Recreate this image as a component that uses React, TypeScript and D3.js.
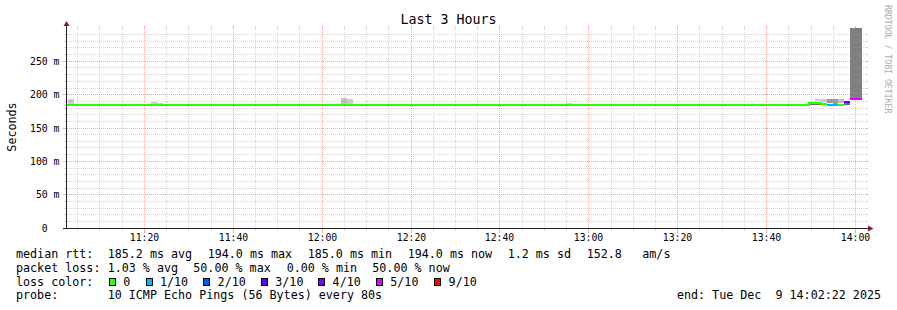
import React from 'react';
import * as d3 from 'd3';

// ---------- data ----------
const TITLE = 'Last 3 Hours';
const Y_AXIS_TITLE = 'Seconds';
const WATERMARK = 'RRDTOOL / TOBI OETIKER';

const RANGE_START = new Date(2025, 11, 9, 11, 2, 22);
const RANGE_END = new Date(2025, 11, 9, 14, 2, 22);
const Y_DOMAIN_MS = [0, 300];
const Y_MINOR_STEP_MS = 10;
const Y_MAJOR_STEP_MS = 50;
const yLabelValuesMs = [0, 50, 100, 150, 200, 250];
const yLabelTexts = ['0  ', '50 m', '100 m', '150 m', '200 m', '250 m'];
const X_MINOR_MINUTES = 5;
const X_MAJOR_MINUTES = 20;

const STEP_SECONDS = 80;
const FIRST_STEP_END = new Date(2025, 11, 9, 11, 4, 10);

// median rtt, as runs of consecutive steps
const medianRunFirstStep = [-1, 125, 126, 127, 128, 129, 130, 131, 132];
const medianRunLastStep = [124, 125, 126, 127, 128, 129, 130, 131, 133];
const medianRunMs = [185.0, 188.5, 188.5, 186.5, 186.0, 185.0, 185.5, 190.5, 194.0];
const medianRunLoss = [0, 0, 0, 0, 1, 1, 0, 3, 5];

// smoke (spread of the pings)
const smokeStep = [0, 14, 15, 46, 47, 84, 125, 126, 126, 127, 128, 129, 130, 131, 132, 133];
const smokeLowMs = [185.5, 186.5, 186, 185, 185, 185.5, 185, 185, 190, 189, 187.5, 186.5, 187, 185, 195.5, 195.5];
const smokeHighMs = [193.5, 189.5, 187.5, 195, 193.5, 187, 187.5, 187.5, 193.5, 193.5, 193.5, 193.5, 193.5, 189, 320, 320];
const smokeShade = [0, 0, 0, 1, 0, 0, 3, 3, 0, 0, 2, 2, 1, 3, 4, 4];
const SMOKE_COLORS = ['#cdcdcd', '#c2c2c2', '#9c9c9c', '#6e6e6e', '#808080'];

const lossLevels = [0, 1, 2, 3, 4, 5, 9];
const lossLabels = ['0', '1/10', '2/10', '3/10', '4/10', '5/10', '9/10'];
const lossColors = ['#26ff00', '#00b8ff', '#0059ff', '#5e00ff', '#7e00ff', '#dd00ff', '#ff0000'];

const legendRttLabel = 'median rtt:';
const legendRttItems = ['185.2 ms avg', '194.0 ms max', '185.0 ms min', '194.0 ms now', '1.2 ms sd', '152.8', 'am/s'];
const legendLossLabel = 'packet loss:';
const legendLossItems = ['1.03 % avg', '50.00 % max', '0.00 % min', '50.00 % now'];
const legendColorLabel = 'loss color:';
const legendProbeLabel = 'probe:';
const legendProbeText = '10 ICMP Echo Pings (56 Bytes) every 80s';
const legendEndText = 'end: Tue Dec  9 14:02:22 2025';

// ---------- layout ----------
const WIDTH = 897;
const HEIGHT = 310;
const X0 = 66;
const X1 = 866;
const Y1 = 28;
const Y0 = 228;
const FONT = '"DejaVu Sans Mono", monospace';
const LEGEND_FS = 11.7;
const AXIS_FS = 9.8;
const rttX = [107.7, 207.7, 307.7, 407.7, 507.7, 586.7, 642.3];
const lossX = [107.7, 193.3, 286.7, 372.3];
const boxX = [109, 145.7, 203.3, 261, 318.3, 376, 434.3];
const legendBaselines = [258.3, 272, 285.7, 299.4];

const GRID_COLOR = 'rgba(143,143,143,0.37)';
const MGRID_COLOR = 'rgba(222,79,79,0.48)';
const AXIS_COLOR = '#202020';
const ARROW_COLOR = '#802020';
const PRE = { whiteSpace: 'pre' as const };

export default function App() {
  const x = d3.scaleTime().domain([RANGE_START, RANGE_END]).range([X0, X1]);
  const y = d3.scaleLinear().domain(Y_DOMAIN_MS).range([Y0, Y1]);
  const stepStart = (k: number) => new Date(FIRST_STEP_END.getTime() + (k - 1) * STEP_SECONDS * 1000);
  const stepEnd = (k: number) => new Date(FIRST_STEP_END.getTime() + k * STEP_SECONDS * 1000);
  const px = (v: number) => Math.floor(v) + 0.5;

  const minorTimes = x.ticks(d3.timeMinute.every(X_MINOR_MINUTES) as any).filter(t => t.getMinutes() % X_MAJOR_MINUTES !== 0);
  const majorTimes = x.ticks(d3.timeMinute.every(X_MAJOR_MINUTES) as any);
  const fmt = d3.timeFormat('%H:%M');

  const yMinor = d3.range(Y_MINOR_STEP_MS, Y_DOMAIN_MS[1], Y_MINOR_STEP_MS).filter(v => v % Y_MAJOR_STEP_MS !== 0);
  const yMajor = d3.range(Y_MAJOR_STEP_MS, Y_DOMAIN_MS[1], Y_MAJOR_STEP_MS);

  type Step = { k: number; v: number; loss: number };
  const steps: Step[] = [];
  medianRunFirstStep.forEach((a, i) => {
    for (let k = a; k <= medianRunLastStep[i]; k++) steps.push({ k, v: medianRunMs[i], loss: medianRunLoss[i] });
  });
  steps.sort((a, b) => a.k - b.k);

  const medianPaths = lossLevels.map((lvl, li) => {
    const pts: { x: number; y: number; on: boolean }[] = [];
    steps.forEach(s => {
      const yy = Math.floor(y(s.v)) + 1;
      const on = s.loss === lvl;
      pts.push({ x: x(stepStart(s.k)), y: yy, on });
      pts.push({ x: x(stepEnd(s.k)), y: yy, on });
    });
    const line = d3.line<{ x: number; y: number; on: boolean }>().defined(p => p.on).x(p => p.x).y(p => p.y);
    return { color: lossColors[li], d: line(pts) || '' };
  });

  return (
    <svg width={WIDTH} height={HEIGHT} style={{ position: 'absolute', left: 0, top: 0, background: '#fff' }} fontFamily={FONT}>
      <rect x={0} y={0} width={WIDTH} height={HEIGHT} fill="#ffffff" />
      <defs>
        <clipPath id="plot">
          <rect x={X0} y={Y1} width={X1 - X0} height={Y0 - Y1} />
        </clipPath>
      </defs>

      {/* smoke */}
      <g clipPath="url(#plot)" shapeRendering="crispEdges">
        {smokeStep.map((k, i) => {
          const xa = Math.round(x(stepStart(k)));
          const xb = Math.round(x(stepEnd(k)));
          const ya = Math.round(y(smokeHighMs[i]));
          const yb = Math.round(y(smokeLowMs[i]));
          return <rect key={i} x={xa} y={ya} width={xb - xa} height={yb - ya} fill={SMOKE_COLORS[smokeShade[i]]} />;
        })}
      </g>

      {/* grid */}
      <g strokeWidth={1} shapeRendering="crispEdges">
        {yMinor.map(v => (
          <g key={'ym' + v}>
            <line x1={X0 - 2} x2={X0} y1={px(y(v))} y2={px(y(v))} stroke={GRID_COLOR} />
            <line x1={X1} x2={X1 + 2} y1={px(y(v))} y2={px(y(v))} stroke={GRID_COLOR} />
            <line x1={X0 + 1} x2={X1} y1={px(y(v))} y2={px(y(v))} stroke={GRID_COLOR} strokeDasharray="1,1" />
          </g>
        ))}
        {minorTimes.map(t => (
          <g key={'xm' + t.getTime()}>
            <line x1={px(x(t))} x2={px(x(t))} y1={Y1 - 2} y2={Y1} stroke={GRID_COLOR} />
            <line x1={px(x(t))} x2={px(x(t))} y1={Y0 + 1} y2={Y0 + 3} stroke={GRID_COLOR} />
            <line x1={px(x(t))} x2={px(x(t))} y1={Y1} y2={Y0} stroke={GRID_COLOR} strokeDasharray="1,1" />
          </g>
        ))}
        {yMajor.map(v => (
          <g key={'yM' + v}>
            <line x1={X0 - 3} x2={X0} y1={px(y(v))} y2={px(y(v))} stroke={MGRID_COLOR} />
            <line x1={X1} x2={X1 + 2} y1={px(y(v))} y2={px(y(v))} stroke={MGRID_COLOR} />
            <line x1={X0 + 1} x2={X1} y1={px(y(v))} y2={px(y(v))} stroke={MGRID_COLOR} strokeDasharray="1,1" />
          </g>
        ))}
        {majorTimes.map(t => (
          <g key={'xM' + t.getTime()}>
            <line x1={px(x(t))} x2={px(x(t))} y1={Y1 - 2} y2={Y1} stroke={MGRID_COLOR} />
            <line x1={px(x(t))} x2={px(x(t))} y1={Y0 + 1} y2={Y0 + 5} stroke={MGRID_COLOR} />
            <line x1={px(x(t))} x2={px(x(t))} y1={Y1} y2={Y0} stroke={MGRID_COLOR} strokeDasharray="1,1" />
          </g>
        ))}
      </g>

      {/* median lines */}
      <g clipPath="url(#plot)">
        {medianPaths.map((p, i) => (
          <path key={i} d={p.d} fill="none" stroke={p.color} strokeWidth={2} shapeRendering="crispEdges" />
        ))}
      </g>

      {/* axes */}
      <g shapeRendering="crispEdges">
        <line x1={X0 - 3} x2={X1 + 2} y1={Y0 + 0.5} y2={Y0 + 0.5} stroke={AXIS_COLOR} />
        <line x1={X0 + 0.5} x2={X0 + 0.5} y1={Y1 - 3} y2={Y0 + 1} stroke={AXIS_COLOR} />
      </g>
      <path d={`M${X0 - 2.5},${Y1 - 2} L${X0 + 3.5},${Y1 - 2} L${X0 + 0.5},${Y1 - 7} Z`} fill={ARROW_COLOR} />
      <path d={`M${X1 + 2},${Y0 - 2.5} L${X1 + 2},${Y0 + 3.5} L${X1 + 7.5},${Y0 + 0.5} Z`} fill={ARROW_COLOR} />

      {/* axis labels */}
      <g fontSize={AXIS_FS} fill="#000">
        {yLabelValuesMs.map((v, i) => (
          <text key={'yl' + v} x={59.5} y={Math.floor(y(v)) + 4} textAnchor="end" style={PRE} xmlSpace="preserve">
            {yLabelTexts[i]}
          </text>
        ))}
        {majorTimes.map(t => (
          <text key={'xl' + t.getTime()} x={px(x(t))} y={241} textAnchor="middle">
            {fmt(t)}
          </text>
        ))}
      </g>

      {/* titles */}
      <text x={448.5} y={23.5} textAnchor="middle" fontSize={13.3} fill="#000">{TITLE}</text>
      <text transform={`translate(15.5,127) rotate(-90)`} textAnchor="middle" fontSize={LEGEND_FS} fill="#000">{Y_AXIS_TITLE}</text>
      <text transform={`translate(885,5) rotate(90)`} fontSize={8.2} fill="#ababab">{WATERMARK}</text>

      {/* legend */}
      <g fontSize={LEGEND_FS} fill="#000">
        <text x={16} y={legendBaselines[0]} style={PRE} xmlSpace="preserve">{legendRttLabel}</text>
        {legendRttItems.map((s, i) => (
          <text key={'r' + i} x={rttX[i]} y={legendBaselines[0]} style={PRE} xmlSpace="preserve">{s}</text>
        ))}
        <text x={16} y={legendBaselines[1]} style={PRE} xmlSpace="preserve">{legendLossLabel}</text>
        {legendLossItems.map((s, i) => (
          <text key={'l' + i} x={lossX[i]} y={legendBaselines[1]} style={PRE} xmlSpace="preserve">{s}</text>
        ))}
        <text x={16} y={legendBaselines[2]} style={PRE} xmlSpace="preserve">{legendColorLabel}</text>
        {lossLabels.map((s, i) => (
          <g key={'c' + i}>
            <rect x={boxX[i] + 0.5} y={278.5} width={6} height={7} fill={lossColors[i]} stroke="#000" strokeWidth={1} shapeRendering="crispEdges" />
            <text x={boxX[i] + 14.3} y={legendBaselines[2]} style={PRE} xmlSpace="preserve">{s}</text>
          </g>
        ))}
        <text x={16} y={legendBaselines[3]} style={PRE} xmlSpace="preserve">{legendProbeLabel}</text>
        <text x={107.7} y={legendBaselines[3]} style={PRE} xmlSpace="preserve">{legendProbeText}</text>
        <text x={881} y={legendBaselines[3]} textAnchor="end" style={PRE} xmlSpace="preserve">{legendEndText}</text>
      </g>
    </svg>
  );
}
